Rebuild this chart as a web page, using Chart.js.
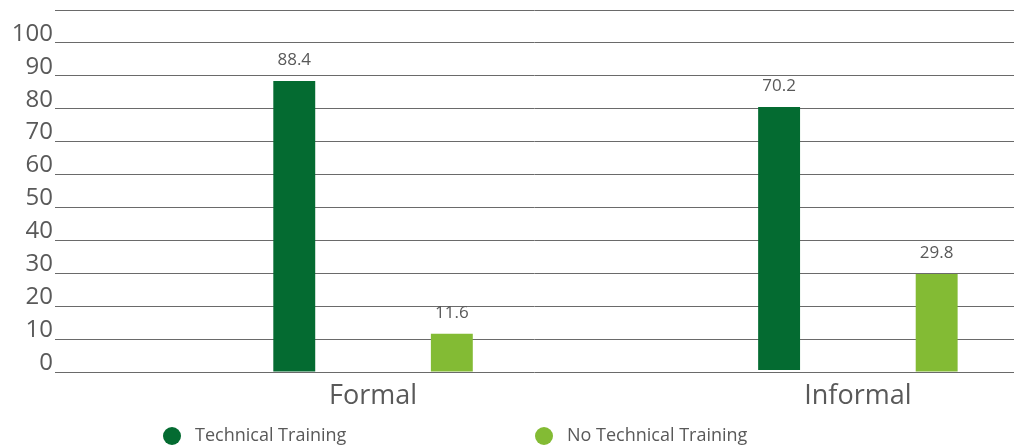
<!DOCTYPE html>
<html>
<head>
<meta charset="utf-8">
<script src="https://cdn.jsdelivr.net/npm/chart.js@4"></script>
<style>
  html, body { margin: 0; padding: 0; background: #fff; }
  #wrap { width: 1014px; height: 448px; }
</style>
</head>
<body>
<div id="wrap"><canvas id="grafico"></canvas></div>
<script>
// categories and values
const categories = ['Formal', 'Informal'];
const categoryPositions = [1, 2];
const technicalLabels = ['88.4', '70.2'];
const noTechnicalLabels = ['11.6', '29.8'];
// bar extents as drawn in the picture (the Informal bar floats a little above 0)
const technicalBars = [[0, 88.4], [0.6, 80.5]];
const noTechnicalBars = [[0, 11.6], [0, 29.8]];
const yTicks = [0, 10, 20, 30, 40, 50, 60, 70, 80, 90, 100, 110];

const darkGreen = '#046B31';
const lightGreen = '#83BB34';
const textGray = '#595959';

function puntos(bars) {
    return bars.map((b, i) => ({ x: categoryPositions[i], y: b }));
}

// draws the value labels above each bar
const etiquetasPlugin = {
    id: 'etiquetas',
    afterDatasetsDraw(chart) {
        const ctx = chart.ctx;
        const textos = [technicalLabels, noTechnicalLabels];
        ctx.save();
        ctx.font = '17px "Open Sans"';
        ctx.fillStyle = textGray;
        ctx.textAlign = 'center';
        ctx.textBaseline = 'bottom';
        chart.data.datasets.forEach((ds, d) => {
            chart.getDatasetMeta(d).data.forEach((bar, i) => {
                ctx.fillText(textos[d][i], bar.x, bar.y - 12);
            });
        });
        ctx.restore();
    }
};

// legend drawn at the bottom, left of centre like in the picture
const leyendaPlugin = {
    id: 'leyenda',
    afterDraw(chart) {
        const ctx = chart.ctx;
        const lugares = [172, 544];
        const y = 436;
        ctx.save();
        ctx.font = '18px "Open Sans"';
        ctx.textBaseline = 'middle';
        ctx.textAlign = 'left';
        chart.data.datasets.forEach((ds, d) => {
            ctx.fillStyle = ds.backgroundColor;
            ctx.beginPath();
            ctx.arc(lugares[d], y, 9, 0, Math.PI * 2);
            ctx.fill();
            ctx.fillStyle = textGray;
            ctx.fillText(ds.label, lugares[d] + 23, y);
        });
        ctx.restore();
    }
};

new Chart(document.getElementById('grafico').getContext('2d'), {
    type: 'bar',
    data: {
        datasets: [{
            label: 'Technical Training',
            data: puntos(technicalBars),
            backgroundColor: darkGreen,
            borderWidth: 0
        }, {
            label: 'No Technical Training',
            data: puntos(noTechnicalBars),
            backgroundColor: lightGreen,
            borderWidth: 0
        }]
    },
    options: {
        responsive: true,
        maintainAspectRatio: false,
        animation: false,
        layout: { padding: 0 },
        categoryPercentage: 0.65,
        barPercentage: 0.266,
        scales: {
            x: {
                type: 'linear',
                offset: false,
                min: 0.344,
                max: 2.322,
                grid: { display: false },
                border: { display: false },
                afterBuildTicks: (scale) => {
                    scale.ticks = categoryPositions.map(v => ({ value: v }));
                },
                afterFit: (scale) => {
                    scale.height = 76;
                    scale.paddingLeft = 0;
                    scale.paddingRight = 0;
                },
                ticks: {
                    color: textGray,
                    font: { family: 'Open Sans', size: 27 },
                    padding: 0,
                    autoSkip: false,
                    maxRotation: 0,
                    callback: (v) => categories[categoryPositions.indexOf(v)] || ''
                }
            },
            y: {
                min: 0,
                max: 110,
                afterBuildTicks: (scale) => {
                    scale.ticks = yTicks.map(v => ({ value: v }));
                },
                afterFit: (scale) => {
                    scale.width = 55;
                    scale.paddingTop = 10;
                    scale.paddingBottom = 0;
                },
                grid: { color: '#6a6a6a', lineWidth: 1, drawTicks: false },
                border: { display: false },
                ticks: {
                    color: textGray,
                    font: { family: 'Open Sans', size: 24 },
                    padding: 2,
                    labelOffset: -9,
                    autoSkip: false,
                    callback: (v) => v === 110 ? '' : v
                }
            }
        },
        plugins: {
            legend: { display: false },
            tooltip: { enabled: false }
        }
    },
    plugins: [etiquetasPlugin, leyendaPlugin]
});
</script>
</body>
</html>
